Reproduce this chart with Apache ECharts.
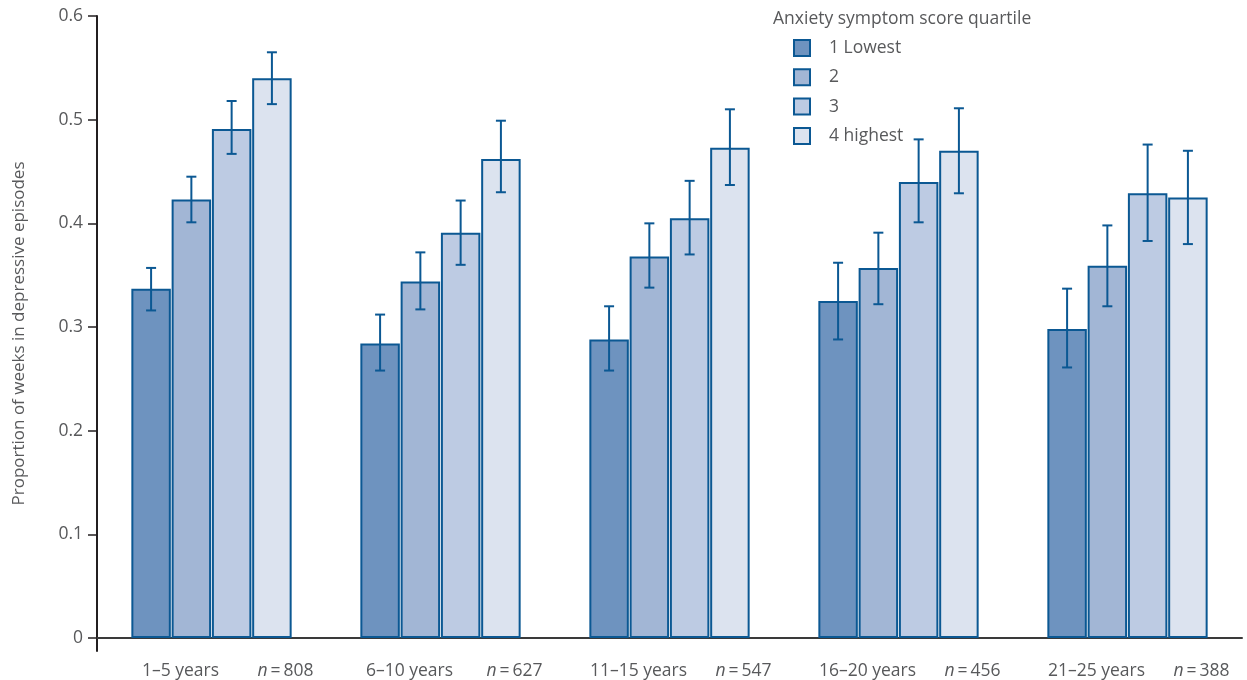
<!DOCTYPE html>
<html>
<head>
<meta charset="utf-8">
<script src="https://cdn.jsdelivr.net/npm/echarts@6/dist/echarts.min.js"></script>
<style>
html,body{margin:0;padding:0;background:#fff;}
#c{width:1247px;height:680px;}
</style>
</head>
<body>
<div id="c"></div>
<script>
var categories = ['1–5 years','6–10 years','11–15 years','16–20 years','21–25 years'];
var nValues = [808, 627, 547, 456, 388];
var seriesNames = ['1 Lowest','2','3','4 highest'];
var yTicks = [0, 0.1, 0.2, 0.3, 0.4, 0.5, 0.6];

var q1 = [0.337, 0.284, 0.288, 0.325, 0.298];
var q1Low = [0.316, 0.258, 0.258, 0.288, 0.261];
var q1High = [0.357, 0.312, 0.320, 0.362, 0.337];

var q2 = [0.423, 0.344, 0.368, 0.357, 0.359];
var q2Low = [0.401, 0.317, 0.338, 0.322, 0.320];
var q2High = [0.445, 0.372, 0.400, 0.391, 0.398];

var q3 = [0.491, 0.391, 0.405, 0.440, 0.429];
var q3Low = [0.467, 0.360, 0.370, 0.401, 0.383];
var q3High = [0.518, 0.422, 0.441, 0.481, 0.476];

var q4 = [0.540, 0.462, 0.473, 0.470, 0.425];
var q4Low = [0.515, 0.430, 0.437, 0.429, 0.380];
var q4High = [0.565, 0.499, 0.510, 0.511, 0.470];

var values = [q1, q2, q3, q4];
var lows = [q1Low, q2Low, q3Low, q4Low];
var highs = [q1High, q2High, q3High, q4High];

var fills = ['#6e93bf', '#a2b6d5', '#bdcbe3', '#dce3ef'];
var edge = '#0b5893';
var FONT = '"Open Sans", "Noto Sans", sans-serif';
var TXT = '#58595b';
var FS = 17.5;
var CAT_GAP = 0.30, BAR_GAP = 0.02;

var chart = echarts.init(document.getElementById('c'));

function errRender(si) {
  return function (params, api) {
    var cat = api.value(0);
    var lo = api.value(1), hi = api.value(2);
    var band = api.size([1, 0])[0];
    var gw = band * (1 - CAT_GAP);
    var w = gw / (4 + 3 * BAR_GAP);
    var off = -gw / 2 + si * w * (1 + BAR_GAP) + w / 2;
    var pLo = api.coord([cat, lo]);
    var pHi = api.coord([cat, hi]);
    var x = pLo[0] + off;
    var cap = 5;
    var st = {stroke: edge, lineWidth: 2};
    return {
      type: 'group',
      children: [
        {type: 'line', shape: {x1: x, y1: pLo[1], x2: x, y2: pHi[1]}, style: st},
        {type: 'line', shape: {x1: x - cap, y1: pLo[1], x2: x + cap, y2: pLo[1]}, style: st},
        {type: 'line', shape: {x1: x - cap, y1: pHi[1], x2: x + cap, y2: pHi[1]}, style: st}
      ]
    };
  };
}

var series = [];
for (var i = 0; i < 4; i++) {
  series.push({
    name: seriesNames[i],
    type: 'bar',
    data: values[i],
    barCategoryGap: (CAT_GAP * 100) + '%',
    barGap: (BAR_GAP * 100) + '%',
    itemStyle: {color: fills[i], borderColor: edge, borderWidth: 2},
    emphasis: {disabled: true},
    z: 2
  });
}
for (var j = 0; j < 4; j++) {
  var ed = [];
  for (var k = 0; k < categories.length; k++) ed.push([k, lows[j][k], highs[j][k]]);
  series.push({
    type: 'custom',
    renderItem: errRender(j),
    data: ed,
    z: 5,
    silent: true,
    encode: {x: 0, y: [1, 2]}
  });
}

var option = {
  animation: false,
  backgroundColor: '#fff',
  title: {
    text: 'Anxiety symptom score quartile',
    left: 768, top: 5,
    textStyle: {fontFamily: FONT, fontSize: FS, fontWeight: 'normal', color: TXT}
  },
  legend: {
    data: seriesNames,
    orient: 'vertical',
    left: 788, top: 34,
    itemWidth: 16, itemHeight: 16, itemGap: 11.3,
    icon: 'rect',
    textStyle: {fontFamily: FONT, fontSize: FS, color: TXT, padding: [0, 0, 0, 14]}
  },
  grid: {left: 97, right: 5, top: 16, bottom: 29, outerBoundsMode: 'none', containLabel: false},
  xAxis: [{
    type: 'category',
    data: categories,
    position: 'bottom',
    axisLine: {onZero: true, lineStyle: {color: '#3a3a3a', width: 2}},
    axisTick: {show: false},
    axisLabel: {
      margin: 11,
      formatter: function (v) { return '{a|' + v + '}{s|}'; },
      rich: {
        a: {fontFamily: FONT, fontSize: FS, color: TXT},
        s: {width: 62}
      }
    }
  }, {
    type: 'category',
    data: categories,
    position: 'bottom',
    axisLine: {show: false},
    axisTick: {show: false},
    axisLabel: {
      margin: 11,
      formatter: function (v, idx) { return '{s|}{i|n}{t|\u2009=\u2009' + nValues[idx] + '}'; },
      rich: {
        s: {width: 148},
        i: {fontFamily: FONT, fontSize: FS, color: TXT, fontStyle: 'italic'},
        t: {fontFamily: FONT, fontSize: FS, color: TXT}
      }
    }
  }],
  yAxis: {
    type: 'value',
    min: -0.0125,
    max: 0.6,
    name: 'Proportion of weeks in depressive episodes',
    nameLocation: 'middle',
    nameRotate: 90,
    nameGap: 69,
    nameTextStyle: {fontFamily: FONT, fontSize: 17, color: TXT},
    axisLine: {show: true, lineStyle: {color: '#231f20', width: 2}},
    axisTick: {show: true, length: 9, lineStyle: {color: '#231f20', width: 1.5}, customValues: yTicks},
    axisLabel: {
      customValues: yTicks,
      margin: 14,
      fontFamily: FONT, fontSize: FS, color: TXT,
      formatter: function (v) { return v === 0 ? '0' : v.toFixed(1); }
    },
    splitLine: {show: false}
  },
  series: series
};
chart.setOption(option);
</script>
</body>
</html>
